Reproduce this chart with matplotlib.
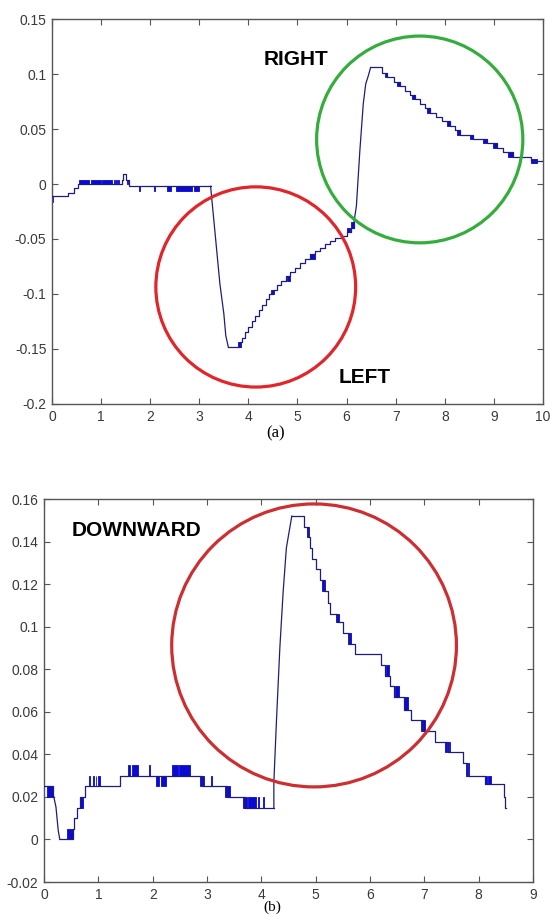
import numpy as np
import matplotlib
matplotlib.use("Agg")
import matplotlib.pyplot as plt
from matplotlib.patches import Ellipse

plt.rcParams.update({"font.family": ["Liberation Sans", "DejaVu Sans"],
                     "axes.unicode_minus": False})
LINE, FLICK = "#1e1e78", "#0a0ad2"
RED, RED2, GREEN = "#e0262a", "#cc2f31", "#35ad3c"

# ---- (a) lateral response ----
a_base_x = [0.0, 0.33, 0.45, 0.52, 1.42, 1.45, 1.50, 1.56, 3.23]
a_base_v = [-0.011, -0.008, -0.004, 0.0, 0.004, 0.009, 0.004, -0.002, -0.002]
a_drop_x = [3.23, 3.42, 3.50, 3.54, 3.59]
a_drop_v = [-0.002, -0.091, -0.118, -0.138, -0.148]
a_rec_x = [3.59, 3.83, 3.88, 3.94, 4.00, 4.07, 4.14, 4.21, 4.28, 4.35, 4.42, 4.50,
           4.58, 4.67, 4.76, 4.85, 4.95, 5.05, 5.15, 5.26, 5.36, 5.46, 5.56, 5.66,
           5.77, 5.88, 6.00, 6.08, 6.15]
a_rec_v = [-0.148, -0.144, -0.140, -0.135, -0.130, -0.125, -0.120, -0.115, -0.110,
           -0.105, -0.100, -0.096, -0.092, -0.088, -0.084, -0.080, -0.076, -0.072,
           -0.068, -0.064, -0.061, -0.058, -0.055, -0.052, -0.049, -0.047, -0.044,
           -0.040, -0.035]
a_rise_x = [6.15, 6.20, 6.27, 6.34, 6.39, 6.44, 6.49]
a_rise_v = [-0.035, -0.020, 0.030, 0.073, 0.091, 0.098, 0.106]
a_dec_x = [6.49, 6.73, 6.83, 6.96, 7.09, 7.20, 7.30, 7.39, 7.50, 7.60, 7.70, 7.82,
           7.94, 8.10, 8.20, 8.31, 8.58, 8.86, 9.06, 9.18, 9.40, 9.75, 10.0]
a_dec_v = [0.106, 0.101, 0.097, 0.093, 0.089, 0.085, 0.081, 0.077, 0.073, 0.069,
           0.065, 0.061, 0.057, 0.053, 0.049, 0.045, 0.041, 0.037, 0.033, 0.029,
           0.025, 0.021, 0.021]
# flicker bands (sensor toggling between two adjacent levels)
a_fl_x0 = [0.00, 0.54, 0.79, 1.02, 1.26, 1.30, 1.34, 1.52, 1.77, 2.08, 2.35, 2.52,
           2.89, 3.78, 4.47, 4.79, 5.25, 6.00, 6.09, 6.78, 7.02, 7.33, 7.63, 8.04,
           8.24, 8.51, 8.78, 8.98, 9.29, 9.75]
a_fl_x1 = [0.03, 0.75, 0.99, 1.23, 1.28, 1.32, 1.36, 1.55, 1.79, 2.10, 2.42, 2.86,
           2.99, 3.84, 4.52, 4.85, 5.36, 6.07, 6.15, 6.83, 7.09, 7.39, 7.70, 8.10,
           8.31, 8.58, 8.86, 9.06, 9.40, 9.87]
a_fl_lo = [-0.016, 0.0, 0.0, 0.0, 0.0, 0.0, 0.0, 0.0, -0.0065, -0.0065, -0.0065,
           -0.0065, -0.0065, -0.148, -0.100, -0.088, -0.068, -0.044, -0.040, 0.097,
           0.089, 0.077, 0.065, 0.053, 0.045, 0.041, 0.037, 0.033, 0.025, 0.019]
a_fl_hi = [-0.011, 0.004, 0.004, 0.004, 0.004, 0.004, 0.004, 0.004, -0.002, -0.002,
           -0.002, -0.002, -0.002, -0.144, -0.096, -0.084, -0.064, -0.040, -0.035,
           0.101, 0.093, 0.081, 0.069, 0.057, 0.049, 0.045, 0.041, 0.037, 0.029,
           0.023]
a_xticks = list(range(0, 11))
a_yticks = [-0.2, -0.15, -0.1, -0.05, 0, 0.05, 0.1, 0.15]

# ---- (b) vertical response ----
b_start_x = [0.0, 0.16, 0.18]
b_start_v = [0.025, 0.020, 0.020]
b_dip_x = [0.18, 0.22, 0.26, 0.29]
b_dip_v = [0.020, 0.0152, 0.0045, 0.0]
b_base_x = [0.29, 0.53, 0.56, 0.61, 0.67, 0.75, 1.40, 2.90, 3.36, 3.70, 4.23]
b_base_v = [0.0, 0.005, 0.010, 0.015, 0.020, 0.025, 0.030, 0.025, 0.020, 0.015, 0.015]
b_rise_x = [4.23, 4.23, 4.28, 4.34, 4.40, 4.46, 4.52, 4.56]
b_rise_v = [0.015, 0.027, 0.057, 0.090, 0.116, 0.137, 0.146, 0.152]
b_dec_x = [4.56, 4.79, 4.86, 4.90, 4.93, 5.01, 5.08, 5.16, 5.22, 5.26, 5.40, 5.50,
           5.62, 5.72, 6.21, 6.27, 6.36, 6.45, 6.62, 6.76, 6.97, 7.19, 7.43, 7.71,
           7.78, 8.11, 8.46, 8.49, 8.50]
b_dec_v = [0.152, 0.147, 0.142, 0.137, 0.132, 0.127, 0.122, 0.117, 0.111, 0.106,
           0.102, 0.097, 0.092, 0.087, 0.082, 0.077, 0.072, 0.067, 0.061, 0.056,
           0.051, 0.046, 0.041, 0.036, 0.030, 0.026, 0.020, 0.015, 0.015]
b_fl_x0 = [0.06, 0.42, 0.67, 0.83, 0.90, 0.95, 1.00, 1.55, 1.61, 1.94, 2.07, 2.16,
           2.35, 2.49, 2.87, 3.08, 3.33, 3.66, 3.75, 3.94, 4.03, 4.84, 5.11, 5.37,
           5.59, 6.30, 6.46, 6.63, 6.94, 7.38, 7.45, 7.76, 7.81, 8.11, 8.18]
b_fl_x1 = [0.16, 0.53, 0.72, 0.845, 0.915, 0.965, 1.03, 1.59, 1.73, 1.955, 2.11, 2.24,
           2.47, 2.68, 2.94, 3.095, 3.43, 3.73, 3.91, 3.955, 4.045, 4.88, 5.18, 5.42,
           5.65, 6.35, 6.53, 6.70, 7.02, 7.42, 7.48, 7.78, 7.83, 8.16, 8.23]
b_fl_lo = [0.020, 0.0, 0.015, 0.025, 0.025, 0.025, 0.025, 0.030, 0.030, 0.030, 0.025,
           0.025, 0.030, 0.030, 0.025, 0.025, 0.020, 0.015, 0.015, 0.015, 0.015, 0.142,
           0.117, 0.102, 0.092, 0.077, 0.067, 0.061, 0.051, 0.041, 0.041, 0.030, 0.030,
           0.026, 0.026]
b_fl_hi = [0.025, 0.005, 0.020, 0.030, 0.030, 0.030, 0.030, 0.035, 0.035, 0.035, 0.030,
           0.030, 0.035, 0.035, 0.030, 0.030, 0.025, 0.020, 0.020, 0.020, 0.020, 0.147,
           0.122, 0.106, 0.097, 0.082, 0.072, 0.067, 0.056, 0.046, 0.046, 0.036, 0.036,
           0.030, 0.030]
b_xticks = list(range(0, 10))
b_yticks = [-0.02, 0, 0.02, 0.04, 0.06, 0.08, 0.1, 0.12, 0.14, 0.16]

# highlight rings: (centre x, centre y, width, height) in data units
a_left_ring = (4.15, -0.0936, 4.07, 0.182)
a_right_ring = (7.49, 0.0405, 4.20, 0.188)
b_ring = (4.97, 0.0912, 5.24, 0.133)


def style_axes(ax, xt, yt, xlim, ylim):
    ax.set_xlim(*xlim); ax.set_ylim(*ylim)
    ax.set_xticks(xt); ax.set_yticks(yt)
    ax.set_xticklabels([f"{v:g}" for v in xt])
    ax.set_yticklabels([f"{v:g}" for v in yt])
    ax.tick_params(direction="in", length=4, width=0.8, top=True, right=True,
                   labelsize=10, labelcolor="#3a3a3a", color="#555555", pad=4)
    for s in ax.spines.values():
        s.set_color("#555555"); s.set_linewidth(1.0)


def draw_trace(ax, stairs, slopes, fl):
    for x, v in stairs:
        ax.step(x, v, where="post", color=LINE, lw=0.9, zorder=3)
    for x, v in slopes:
        ax.plot(x, v, color=LINE, lw=0.9, zorder=3)
    for x0, x1, lo, hi in zip(*fl):
        ax.fill_between([x0, x1], [lo, lo], [hi, hi], facecolor=FLICK,
                        edgecolor=FLICK, lw=0.6, zorder=2)


def ring(ax, r, col):
    ax.add_patch(Ellipse((r[0], r[1]), r[2], r[3], fill=False, edgecolor=col,
                         lw=2.3, zorder=4))


fig = plt.figure(figsize=(5.51, 9.14), dpi=100)
fig.patch.set_facecolor("white")

ax1 = fig.add_axes([0.0944, 0.558, 0.891, 0.4212])
draw_trace(ax1, [(a_base_x, a_base_v), (a_rec_x, a_rec_v), (a_dec_x, a_dec_v)],
           [(a_drop_x, a_drop_v), (a_rise_x, a_rise_v)],
           (a_fl_x0, a_fl_x1, a_fl_lo, a_fl_hi))
ring(ax1, a_left_ring, RED)
ring(ax1, a_right_ring, GREEN)
ax1.text(4.97, 0.113, "RIGHT", ha="center", va="center", fontsize=15, fontweight="bold")
ax1.text(6.37, -0.176, "LEFT", ha="center", va="center", fontsize=15, fontweight="bold")
style_axes(ax1, a_xticks, a_yticks, (0, 10), (-0.2, 0.15))
fig.text(276 / 551, 1 - 433 / 914, "(a)", ha="center", va="center",
         family=["Liberation Serif", "DejaVu Serif"], fontsize=12)

ax2 = fig.add_axes([0.0799, 0.035, 0.8875, 0.419])
draw_trace(ax2, [(b_start_x, b_start_v), (b_base_x, b_base_v), (b_dec_x, b_dec_v)],
           [(b_dip_x, b_dip_v), (b_rise_x, b_rise_v)],
           (b_fl_x0, b_fl_x1, b_fl_lo, b_fl_hi))
ring(ax2, b_ring, RED2)
ax2.text(1.71, 0.145, "DOWNWARD", ha="center", va="center", fontsize=15, fontweight="bold")
style_axes(ax2, b_xticks, b_yticks, (0, 9), (-0.02, 0.16))
fig.text(272 / 551, 1 - 907.5 / 914, "(b)", ha="center", va="center",
         family=["Liberation Serif", "DejaVu Serif"], fontsize=11)

fig.savefig("out.png", dpi=100)
